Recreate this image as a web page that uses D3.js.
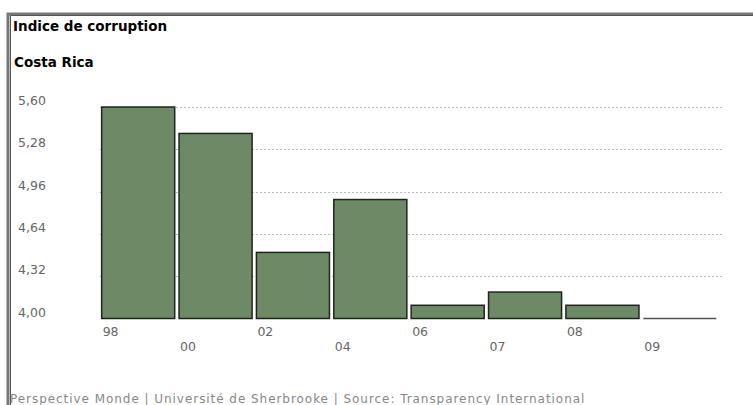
<!DOCTYPE html>
<html><head><meta charset="utf-8">
<script src="https://cdn.jsdelivr.net/npm/d3@7"></script>
<style>body{margin:0;background:#fff;} svg{display:block;}</style>
</head><body>
<svg id="c" width="753" height="405"></svg>
<script>
const title = "Indice de corruption";
const subtitle = "Costa Rica";
const footer = "Perspective Monde | Université de Sherbrooke | Source: Transparency International";
const categories = ["98","00","02","04","06","07","08","09"];
const values = [5.60, 5.40, 4.50, 4.90, 4.10, 4.20, 4.10, 4.00];
const yTicks = [4.00, 4.32, 4.64, 4.96, 5.28, 5.60];

const svg = d3.select("#c");
const font = "'DejaVu Sans', sans-serif";

// frame
svg.append("rect").attr("x",8).attr("y",14).attr("width",760).attr("height",420)
  .attr("fill","none").attr("stroke","#777").attr("stroke-width",3);
svg.append("line").attr("x1",10.5).attr("x2",753).attr("y1",15.5).attr("y2",15.5).attr("stroke","#555").attr("stroke-width",1);
svg.append("line").attr("x1",10.5).attr("x2",10.5).attr("y1",15.5).attr("y2",405).attr("stroke","#555").attr("stroke-width",1);

svg.append("text").attr("x",13).attr("y",31).text(title)
  .attr("font-family",font).attr("font-weight","bold").attr("font-size",13.5).attr("fill","#000");
svg.append("text").attr("x",14).attr("y",67).text(subtitle)
  .attr("font-family",font).attr("font-weight","bold").attr("font-size",13.5).attr("fill","#000");

const x = d3.scaleBand().domain(categories).range([99.5, 718.5]).paddingInner(0.056).paddingOuter(0.028);
const y = d3.scaleLinear().domain([4.0, 5.6]).range([318.5, 107]);

// gridlines
svg.append("g").selectAll("line").data(yTicks.slice(1)).join("line")
  .attr("x1",100).attr("x2",723)
  .attr("y1",d=>Math.round(y(d))+0.5).attr("y2",d=>Math.round(y(d))+0.5)
  .attr("stroke","#bbb").attr("stroke-width",1).attr("stroke-dasharray","2,2");

// y axis labels
const yAxis = d3.axisLeft(y).tickValues(yTicks).tickSize(0)
  .tickFormat(d=>d3.format(".2f")(d).replace(".",","));
const gy = svg.append("g").attr("transform","translate(18,0)").call(yAxis);
gy.select(".domain").remove();
gy.selectAll("text").attr("x",0).attr("dy","-0.2em").attr("text-anchor","start")
  .attr("font-family",font).attr("font-size",12.5).attr("fill","#666");

// bars
svg.append("g").selectAll("rect").data(categories).join("rect")
  .attr("x",d=>x(d)).attr("width",x.bandwidth())
  .attr("y",(d,i)=>y(values[i])).attr("height",(d,i)=>y(4.0)-y(values[i]))
  .attr("fill",(d,i)=>values[i]>4.0?"#6d8966":"none")
  .attr("stroke",(d,i)=>values[i]>4.0?"#1e261c":"none").attr("stroke-width",1.5);
// zero-height bars as baseline line
svg.append("g").selectAll("line").data(categories.filter((d,i)=>values[i]<=4.0)).join("line")
  .attr("x1",d=>x(d)).attr("x2",d=>x(d)+x.bandwidth())
  .attr("y1",y(4.0)).attr("y2",y(4.0)).attr("stroke","#555").attr("stroke-width",1.5);

// x axis labels, alternating rows
const xAxis = d3.axisBottom(x).tickSize(0);
const gx = svg.append("g").attr("transform","translate(0,320)").call(xAxis);
gx.select(".domain").remove();
gx.selectAll(".tick").attr("transform",d=>`translate(${x(d)},0)`);
gx.selectAll("text").attr("x",1).attr("text-anchor","start")
  .attr("y",(d,i)=>i%2===0?16:31).attr("dy",0)
  .attr("font-family",font).attr("font-size",12.5).attr("fill","#666");

svg.append("text").attr("x",10).attr("y",403).text(footer)
  .attr("font-family",font).attr("font-size",12).attr("fill","#888").attr("letter-spacing",0.95);
</script>
</body></html>
